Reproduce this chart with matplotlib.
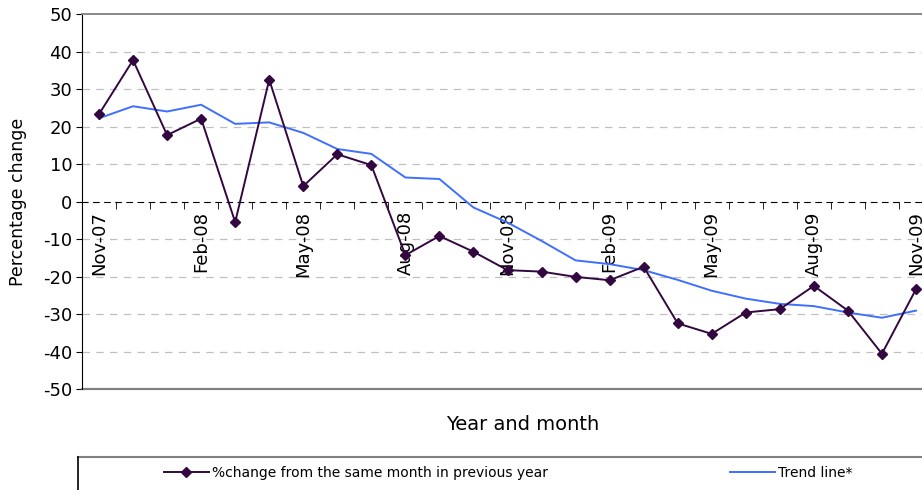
import numpy as np
import matplotlib
matplotlib.use("Agg")
import matplotlib.pyplot as plt
from matplotlib.lines import Line2D

plt.rcParams["axes.unicode_minus"] = False

# months Nov-07 .. Nov-09
months = ["Nov-07", "Dec-07", "Jan-08", "Feb-08", "Mar-08", "Apr-08", "May-08",
          "Jun-08", "Jul-08", "Aug-08", "Sep-08", "Oct-08", "Nov-08", "Dec-08",
          "Jan-09", "Feb-09", "Mar-09", "Apr-09", "May-09", "Jun-09", "Jul-09",
          "Aug-09", "Sep-09", "Oct-09", "Nov-09"]

pct_change = [23.3, 37.7, 17.7, 22.1, -5.5, 32.5, 4.1, 12.6, 9.7, -14.3, -9.2,
              -13.4, -18.3, -18.7, -20.1, -21.0, -17.4, -32.5, -35.3, -29.6,
              -28.7, -22.5, -29.1, -40.6, -23.4]

trend = [22.2, 25.4, 24.0, 25.8, 20.7, 21.1, 18.3, 14.0, 12.7, 6.4, 6.0, -1.6,
         -5.6, -10.5, -15.7, -16.7, -18.3, -20.9, -23.8, -25.9, -27.3, -27.9,
         -29.6, -31.0, -29.1]

legend_labels = ["%change from the same month in previous year", "Trend line*"]

W, H = 922, 490
fig = plt.figure(figsize=(W / 100, H / 100), dpi=100)
ax = fig.add_axes([82 / W, 1 - 389 / H, (933 - 82) / W, (389 - 14) / H])

x = np.arange(len(months))
l1, = ax.plot(x, pct_change, color="#33073F", lw=1.4, marker="D", ms=5.5,
              clip_on=False, zorder=4)
l2, = ax.plot(x, trend, color="#3F6FFF", lw=1.4, clip_on=False, zorder=3)

ax.set_xlim(-0.5, len(months) - 0.5)
ax.set_ylim(-50, 50)

# gridlines
for g in [40, 30, 20, 10, -10, -20, -30, -40]:
    ax.axhline(g, color="#c0c0c0", lw=0.9, ls=(0, (6, 5)), zorder=1)

# spines
ax.spines["right"].set_visible(False)
ax.spines["top"].set_color("#808080")
ax.spines["top"].set_linewidth(1.3)
ax.spines["left"].set_color("black")
ax.spines["bottom"].set_position(("data", 0))
ax.spines["bottom"].set_linestyle((0, (5, 5)))
ax.spines["bottom"].set_color("black")
ax.axhline(-50, color="#808080", lw=1.6, clip_on=False, zorder=2)

# y ticks
ax.set_yticks(range(-50, 51, 10))
ax.tick_params(axis="y", direction="out", length=4, labelsize=13, pad=3)

# x ticks: marks between months, labels every 3rd month
ax.set_xticks(x[::3])
ax.set_xticklabels(months[::3], rotation=90, fontsize=13, va="top")
ax.set_xticks(np.arange(-0.5, len(months), 1), minor=True)
ax.tick_params(axis="x", which="major", length=0, pad=7)
ax.tick_params(axis="x", which="minor", length=5, direction="out")

ax.set_ylabel("Percentage change", fontsize=12.5)
ax.yaxis.set_label_coords(-0.0646, 0.5)
fig.text(523 / W, 1 - 425 / H, "Year and month", ha="center", va="center",
         fontsize=14)

# legend box
fig.add_artist(Line2D([78 / W, 1], [1 - 457 / H] * 2, color="#808080", lw=1.5))
fig.add_artist(Line2D([78 / W] * 2, [0, 1 - 457 / H], color="black", lw=1.2))

lfont = {"family": ["Liberation Sans Narrow", "DejaVu Sans"], "size": 10}
fig.legend([l1], [legend_labels[0]], loc="center left", frameon=False,
           bbox_to_anchor=(158 / W, 1 - 473 / H), prop=lfont,
           handlelength=3.3, handletextpad=0.2, borderaxespad=0)
fig.legend([l2], [legend_labels[1]], loc="center left", frameon=False,
           bbox_to_anchor=(724 / W, 1 - 473 / H), prop=lfont,
           handlelength=3.3, handletextpad=0.2, borderaxespad=0)

fig.savefig("out.png", dpi=100)
